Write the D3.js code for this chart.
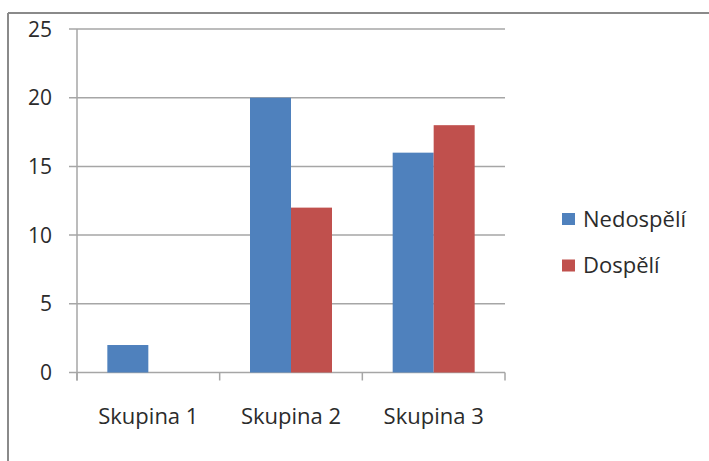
<!DOCTYPE html>
<html>
<head>
<meta charset="utf-8">
<script src="https://cdn.jsdelivr.net/npm/d3@7"></script>
<style>
  html, body { margin: 0; padding: 0; background: #fff; }
  svg { display: block; }
  text { font-family: "Open Sans", "Noto Sans", sans-serif; fill: #2b2b2b; }
</style>
</head>
<body>
<svg id="chart" width="709" height="461"></svg>
<script>
// Chart data
const categories = ["Skupina 1", "Skupina 2", "Skupina 3"];
const seriesNames = ["Nedospělí", "Dospělí"];
const nedospeli = [2, 20, 16];
const dospeli = [0, 12, 18];
const yTicks = [0, 5, 10, 15, 20, 25];
const seriesColors = ["#4f81bd", "#c0504d"];

const seriesValues = [nedospeli, dospeli];

const svg = d3.select("#chart");

// Outer frame (only top and left edges are visible inside the canvas)
svg.append("line").attr("x1", 8).attr("x2", 709).attr("y1", 13).attr("y2", 13)
  .attr("stroke", "#8a8a8a").attr("stroke-width", 2);
svg.append("line").attr("x1", 8).attr("x2", 8).attr("y1", 13).attr("y2", 461)
  .attr("stroke", "#8a8a8a").attr("stroke-width", 2);

// Plot area
const plot = { left: 77, right: 505, top: 29, bottom: 372.5 };

const x = d3.scaleBand().domain(categories).range([plot.left, plot.right]).padding(0);
const inner = d3.scaleBand().domain(seriesNames).range([0, x.bandwidth()])
  .paddingInner(0).paddingOuter(0.74);
const y = d3.scaleLinear().domain([0, 25]).range([plot.bottom, plot.top]);

const gridColor = "#a6a6a6";

// Horizontal gridlines with small tick stubs to the left of the axis
svg.append("g").selectAll("line").data(yTicks).join("line")
  .attr("x1", plot.left - 8).attr("x2", plot.right)
  .attr("y1", d => y(d)).attr("y2", d => y(d))
  .attr("stroke", gridColor).attr("stroke-width", 1.5);

// Y tick labels
svg.append("g").selectAll("text").data(yTicks).join("text")
  .attr("x", 52).attr("y", d => y(d))
  .attr("dy", "0.36em")
  .attr("text-anchor", "end")
  .attr("font-size", 21)
  .text(d => d);

// Bars
const groups = svg.append("g").selectAll("g").data(categories).join("g")
  .attr("transform", d => `translate(${x(d)},0)`);
groups.selectAll("rect")
  .data((c, i) => seriesNames.map((s, j) => ({ s, v: seriesValues[j][i], color: seriesColors[j] })))
  .join("rect")
  .attr("x", d => inner(d.s))
  .attr("width", inner.bandwidth())
  .attr("y", d => y(d.v))
  .attr("height", d => y(0) - y(d.v))
  .attr("fill", d => d.color);

// Vertical axis line
svg.append("line").attr("x1", plot.left).attr("x2", plot.left)
  .attr("y1", plot.top).attr("y2", plot.bottom + 8)
  .attr("stroke", gridColor).attr("stroke-width", 1.5);

// Category boundary ticks
const boundaries = categories.map(c => x(c)).concat([plot.right]);
svg.append("g").selectAll("line").data(boundaries).join("line")
  .attr("x1", d => d).attr("x2", d => d)
  .attr("y1", plot.bottom).attr("y2", plot.bottom + 8)
  .attr("stroke", gridColor).attr("stroke-width", 1.5);

// Category labels
svg.append("g").selectAll("text").data(categories).join("text")
  .attr("x", d => x(d) + x.bandwidth() / 2)
  .attr("y", 424)
  .attr("text-anchor", "middle")
  .attr("font-size", 22)
  .text(d => d);

// Legend
const legend = svg.append("g").selectAll("g").data(seriesNames).join("g")
  .attr("transform", (d, i) => `translate(562,${213 + i * 46.5})`);
legend.append("rect").attr("width", 13).attr("height", 12)
  .attr("fill", (d, i) => seriesColors[i]);
legend.append("text").attr("x", 21).attr("y", 6).attr("dy", "0.36em")
  .attr("font-size", 22).text(d => d);
</script>
</body>
</html>
